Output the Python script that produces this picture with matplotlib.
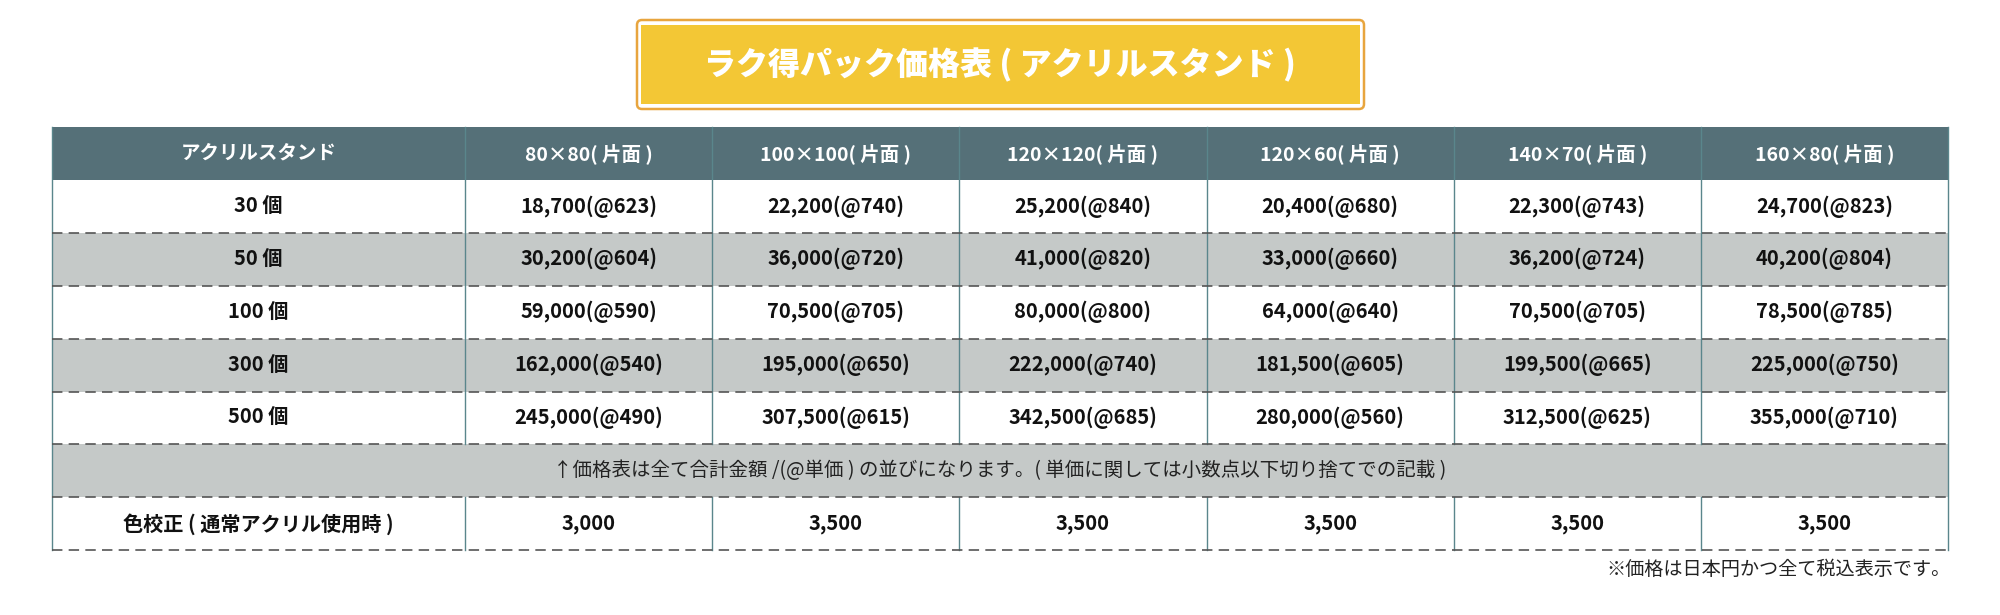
import matplotlib
matplotlib.use("Agg")
import matplotlib.pyplot as plt
from matplotlib.patches import Rectangle, FancyBboxPatch

plt.rcParams['font.family'] = ['Noto Sans CJK JP', 'DejaVu Sans']
plt.rcParams['lines.scale_dashes'] = False

# data
title = 'ラク得パック価格表 ( アクリルスタンド )'
corner_label = 'アクリルスタンド'
sizes = ['80×80( 片面 )', '100×100( 片面 )', '120×120( 片面 )',
         '120×60( 片面 )', '140×70( 片面 )', '160×80( 片面 )']
quantities = [30, 50, 100, 300, 500]
totals = [
    [18700, 30200, 59000, 162000, 245000],
    [22200, 36000, 70500, 195000, 307500],
    [25200, 41000, 80000, 222000, 342500],
    [20400, 33000, 64000, 181500, 280000],
    [22300, 36200, 70500, 199500, 312500],
    [24700, 40200, 78500, 225000, 355000],
]
unit_prices = [
    [623, 604, 590, 540, 490],
    [740, 720, 705, 650, 615],
    [840, 820, 800, 740, 685],
    [680, 660, 640, 605, 560],
    [743, 724, 705, 665, 625],
    [823, 804, 785, 750, 710],
]
note_text = '↑価格表は全て合計金額 /(@単価 ) の並びになります。( 単価に関しては小数点以下切り捨てでの記載 )'
color_label = '色校正 ( 通常アクリル使用時 )'
color_fees = [3000, 3500, 3500, 3500, 3500, 3500]
footnote = '※価格は日本円かつ全て税込表示です。'

# colours
header_col = '#557078'
stripe_col = '#c5c9c8'
yellow = '#f3c735'
orange = '#e8a53e'
vline_col = '#5a868c'
dash_col = '#555555'

W, H = 2000, 615
fig = plt.figure(figsize=(W / 100, H / 100), dpi=100)
ax = fig.add_axes([0, 0, 1, 1])
ax.set_xlim(0, W)
ax.set_ylim(H, 0)
ax.axis('off')

# title box
ax.add_patch(FancyBboxPatch((637, 20), 727, 89, boxstyle='round,pad=0,rounding_size=5',
                            facecolor='white', edgecolor=orange, lw=1.8))
ax.add_patch(Rectangle((641, 25), 719, 79, facecolor=yellow, edgecolor='none'))
ax.text(1000, 65, title, ha='center', va='center', color='white',
        fontsize=23, fontweight='black')

# table geometry
left, right = 52, 1948
top, row_h = 127, 52.9
col_w = (right - 465) / len(sizes)
col_edges = [left] + [465 + i * col_w for i in range(len(sizes) + 1)]
n_rows = 2 + len(quantities) + 1  # header, qty rows, note, colour
row_tops = [top + i * row_h for i in range(n_rows + 1)]
fs = 14.5

# backgrounds
ax.add_patch(Rectangle((left, row_tops[0]), right - left, row_h, facecolor=header_col, edgecolor='none'))
for r in range(n_rows - 1):
    if r % 2 == 1:
        ax.add_patch(Rectangle((left, row_tops[r + 1]), right - left, row_h,
                               facecolor=stripe_col, edgecolor='none'))

# vertical lines
note_row = 1 + len(quantities)
for x in col_edges[1:-1]:
    ax.plot([x, x], [row_tops[0], row_tops[note_row]], color=vline_col, lw=1.0)
    ax.plot([x, x], [row_tops[note_row + 1], row_tops[-1]], color=vline_col, lw=1.0)
for x in (left, right):
    ax.plot([x, x], [row_tops[0], row_tops[-1]], color=vline_col, lw=1.0)

# dashed horizontal lines under each body row
for y in row_tops[2:]:
    ax.plot([left, right], [y, y], color=dash_col, lw=1.2, linestyle=(0, (7.5, 4.5)))

def centre(c):
    return (col_edges[c] + col_edges[c + 1]) / 2

def mid(r):
    return (row_tops[r] + row_tops[r + 1]) / 2

# header
ax.text(centre(0), mid(0), corner_label, ha='center', va='center', color='white',
        fontsize=14, fontweight='bold')
for j, s in enumerate(sizes):
    ax.text(centre(j + 1), mid(0), s, ha='center', va='center', color='white',
            fontsize=14, fontweight='bold')

# price rows
for i, q in enumerate(quantities):
    r = i + 1
    ax.text(centre(0), mid(r), f'{q} 個', ha='center', va='center', color='#111111',
            fontsize=fs, fontweight='bold')
    for j in range(len(sizes)):
        ax.text(centre(j + 1), mid(r), f'{totals[j][i]:,}(@{unit_prices[j][i]})',
                ha='center', va='center', color='#111111', fontsize=fs, fontweight='bold')

# note row
ax.text((left + right) / 2, mid(note_row), note_text, ha='center', va='center',
        color='#222222', fontsize=14)

# colour correction row
r = note_row + 1
ax.text(centre(0), mid(r), color_label, ha='center', va='center', color='#111111',
        fontsize=fs, fontweight='bold')
for j, v in enumerate(color_fees):
    ax.text(centre(j + 1), mid(r), f'{v:,}', ha='center', va='center', color='#111111',
            fontsize=fs, fontweight='bold')

ax.text(1951, 569, footnote, ha='right', va='center', color='#222222', fontsize=13.8)

fig.savefig('out.png', dpi=100)
